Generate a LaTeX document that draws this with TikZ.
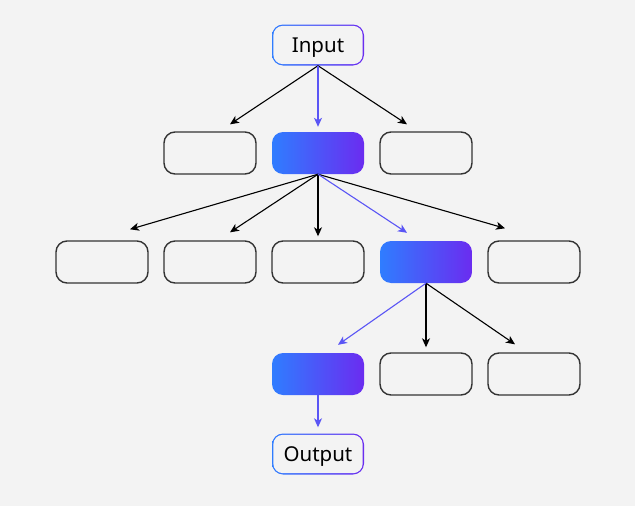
\documentclass[tikz,border=0pt]{standalone}
\usepackage{fontspec}
\setmainfont{Noto Sans}
\usetikzlibrary{arrows.meta,calc}
\definecolor{bgcol}{HTML}{F3F3F3}
\definecolor{gradA}{HTML}{2F7DFF}
\definecolor{gradB}{HTML}{6B2CF0}
\definecolor{linkcol}{HTML}{5A55F5}
\definecolor{edgecol}{HTML}{333333}

\begin{document}
\begin{tikzpicture}[x=1pt,y=-1pt,
  plainbox/.style={rectangle,rounded corners=11pt,draw=edgecol,line width=1.4pt,
    minimum width=92pt,minimum height=42pt,inner sep=0pt},
  gradbox/.style={rectangle,rounded corners=11pt,left color=gradA,right color=gradB,
    minimum width=92pt,minimum height=42pt,inner sep=0pt},
  iobox/.style={rectangle,rounded corners=11pt,minimum width=92pt,minimum height=41pt,
    inner sep=0pt,text depth=0pt,font=\fontsize{20.5}{24}\selectfont,
    path picture={\shade[left color=gradA,right color=gradB]
      (path picture bounding box.south west) rectangle (path picture bounding box.north east);
      \fill[bgcol,rounded corners=9.7pt]
      ([shift={(1.3pt,1.3pt)}]path picture bounding box.south west) rectangle
      ([shift={(-1.3pt,-1.3pt)}]path picture bounding box.north east);}},
  conn/.style={-{Stealth[length=9pt,width=8pt,inset=2.5pt]},line width=1.1pt,black},
  bluelink/.style={conn,linkcol}]

  \path[fill=bgcol] (0,0) rectangle (635,506);

  % input and output
  \node[iobox] (in)  at (318,45)  {Input};
  \node[iobox] (out) at (318,454) {Output};

  % first row
  \foreach \x/\n in {210/a1,426/a3}
    \node[plainbox] (\n) at (\x,153) {};
  \node[gradbox] (a2) at (318,153) {};

  % second row
  \foreach \x/\n in {102/b1,210/b2,318/b3,534/b5}
    \node[plainbox] (\n) at (\x,262) {};
  \node[gradbox] (b4) at (426,262) {};

  % third row
  \node[gradbox] (c1) at (318,374) {};
  \foreach \x/\n in {426/c2,534/c3}
    \node[plainbox] (\n) at (\x,374) {};

  % connectors
  \foreach \n/\dx/\dy in {a1/20/-7,a3/-19/-7}
    \draw[conn] (in.south) -- ($(\n.north)+(\dx,\dy)$);
  \draw[bluelink] (in.south) -- ($(a2.north)+(0,-5)$);

  \foreach \n/\dx/\dy in {b1/28/-11,b2/20/-8,b3/0/-4,b5/-29/-12}
    \draw[conn] (a2.south) -- ($(\n.north)+(\dx,\dy)$);
  \draw[bluelink] (a2.south) -- ($(b4.north)+(-19,-8)$);

  \foreach \n/\dx/\dy in {c2/0/-5,c3/-19/-8}
    \draw[conn] (b4.south) -- ($(\n.north)+(\dx,\dy)$);
  \draw[bluelink] (b4.south) -- ($(c1.north)+(20,-8)$);

  \draw[bluelink] (c1.south) -- ($(out.north)+(0,-6)$);

\end{tikzpicture}
\end{document}
